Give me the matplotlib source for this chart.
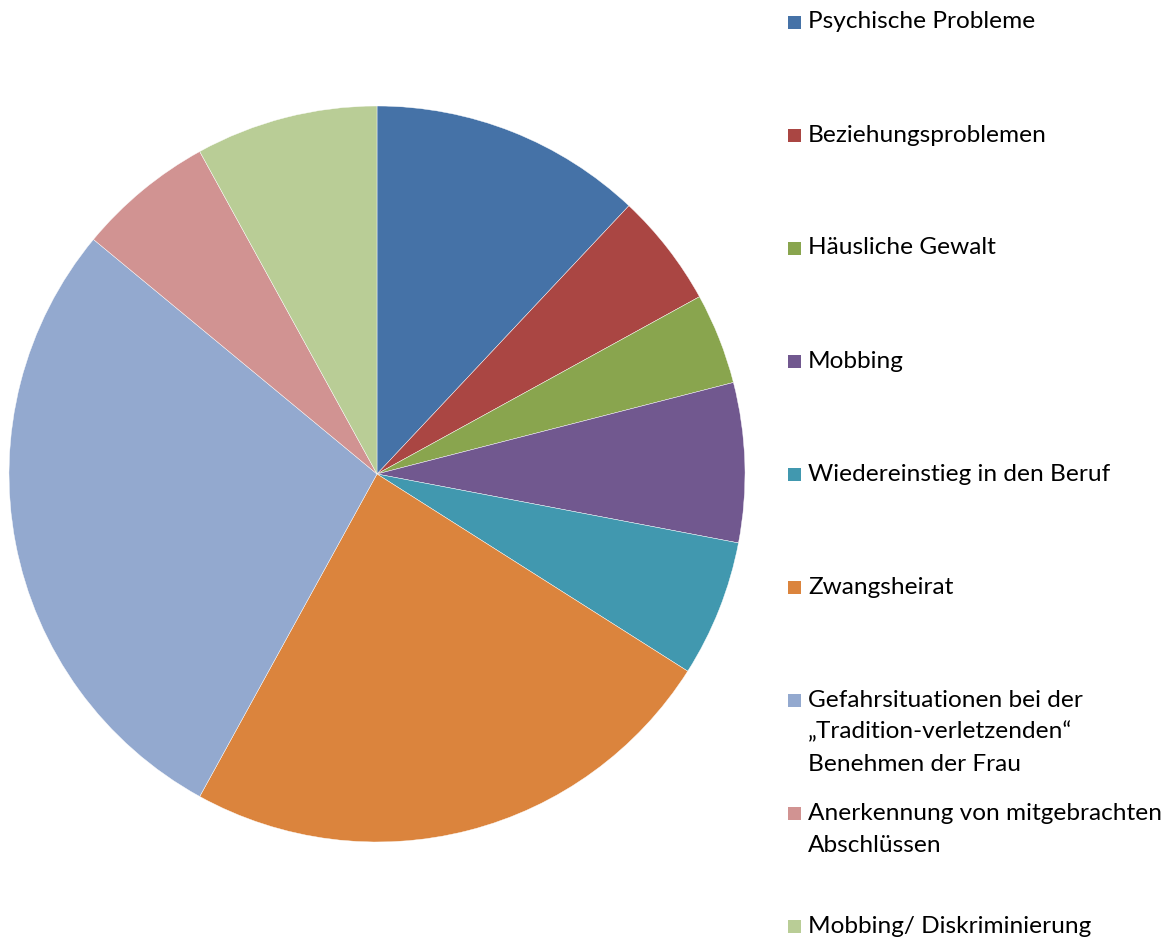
import matplotlib
matplotlib.use("Agg")
import matplotlib.pyplot as plt
from matplotlib.patches import Rectangle

labels = [
    "Psychische Probleme",
    "Beziehungsproblemen",
    "Häusliche Gewalt",
    "Mobbing",
    "Wiedereinstieg in den Beruf",
    "Zwangsheirat",
    "Gefahrsituationen bei der\n\u201eTradition-verletzenden\u201c\nBenehmen der Frau",
    "Anerkennung von mitgebrachten\nAbschlüssen",
    "Mobbing/ Diskriminierung",
]
values = [12, 5, 4, 7, 6, 24, 28, 6, 8]
colors = ["#4572A7", "#AA4643", "#89A54E", "#71588F", "#4198AF",
          "#DB843D", "#93A9CF", "#D19392", "#B9CD96"]

W, H = 1176, 938
fig = plt.figure(figsize=(W / 100, H / 100), dpi=100)
fig.patch.set_facecolor("white")

cx, cy, r = 377, 474, 368
ax = fig.add_axes([(cx - r) / W, (H - cy - r) / H, 2 * r / W, 2 * r / H])
ax.pie(values, colors=colors, startangle=90, counterclock=False, radius=1,
       wedgeprops=dict(linewidth=0.3, edgecolor="white"))
ax.set_xlim(-1, 1)
ax.set_ylim(-1, 1)
ax.set_aspect("equal")
ax.axis("off")

font = "Lato"
y0, step, lh = 22, 113, 32
for i, (lab, col) in enumerate(zip(labels, colors)):
    y = y0 + i * step
    fig.patches.append(Rectangle((788 / W, (H - y - 7) / H), 13 / W, 13 / H,
                                 transform=fig.transFigure, facecolor=col,
                                 edgecolor="none"))
    for k, line in enumerate(lab.split("\n")):
        fig.text(808 / W, (H - y - k * lh) / H, line, fontsize=17.6,
                 family=font, ha="left", va="center", color="black")

fig.savefig("out.png", dpi=100, facecolor="white")
